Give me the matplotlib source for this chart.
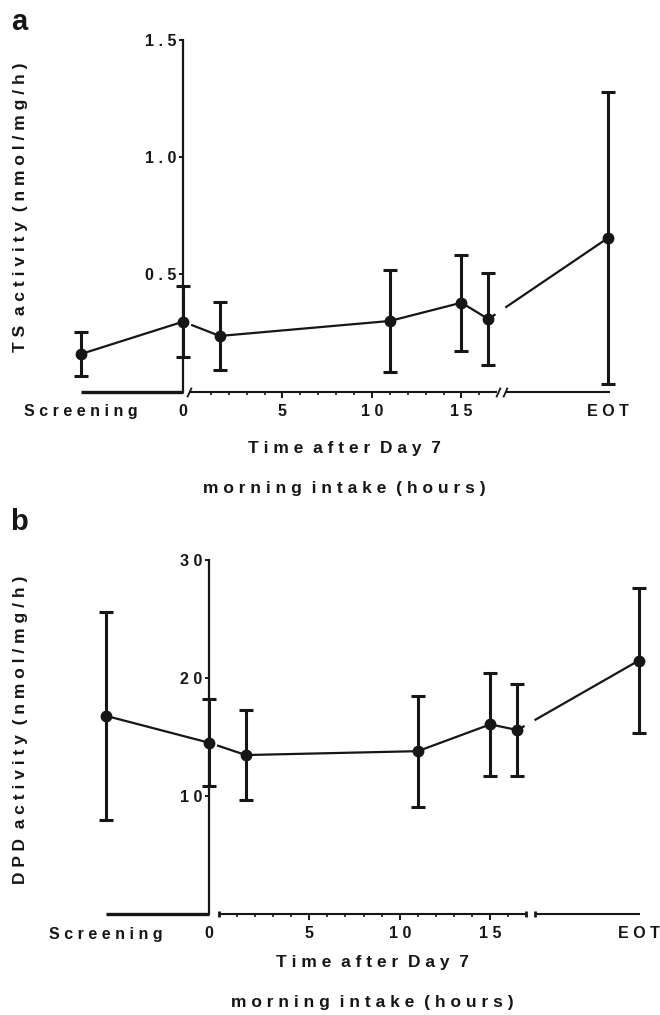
import matplotlib
matplotlib.use("Agg")
import matplotlib.pyplot as plt
import numpy as np

plt.rcParams['font.family'] = ['Liberation Sans', 'DejaVu Sans']
plt.rcParams['font.weight'] = 'bold'

# sampling hours after Day 7 morning intake (screening / EOT are categories)
hours = [0, 1.5, 11, 15, 16.5]
hour_ticks = [5, 10, 15]
y_ticks_ts = [0.5, 1.0, 1.5]
y_ticks_dpd = [10, 20, 30]

# order: Screening, hours..., EOT
ts_mean = [0.160, 0.298, 0.237, 0.301, 0.379, 0.309, 0.656]
ts_sd = [0.095, 0.152, 0.147, 0.218, 0.205, 0.196, 0.624]
dpd_mean = [16.8, 14.52, 13.47, 13.8, 16.07, 15.59, 21.47]
dpd_sd = [8.8, 3.67, 3.84, 4.7, 4.35, 3.9, 6.15]

# layout of the broken x axis (in axis units)
SCREEN_X = -6.25
SPINE_X = -0.55
TIME_END = 17.0
EOT_START = 17.5
EOT_X = 23.2
INK = "#161616"
TICK_FS = 11.5
LABEL_FS = 12.5


def spaced(s):
    return "  ".join(" ".join(w) for w in s.split(" "))


def x_positions():
    return [SCREEN_X] + [SPINE_X if h == 0 else h for h in hours] + [EOT_X]


def broken_segments(xs, ys, gaps):
    """split the connecting line where it crosses an axis break"""
    segs = []
    for (x0, y0), (x1, y1) in zip(zip(xs[:-1], ys[:-1]), zip(xs[1:], ys[1:])):
        cuts = [x0] + [g for gap in gaps for g in gap if x0 < g < x1] + [x1]
        cuts = sorted(cuts)
        for a, b in zip(cuts[:-1], cuts[1:]):
            mid = 0.5 * (a + b)
            if any(lo <= mid <= hi for lo, hi in gaps):
                continue
            segs.append(([a, b], list(np.interp([a, b], [x0, x1], [y0, y1]))))
    return segs


def panel(ax, means, sds, yticks, ymax, style):
    xs = x_positions()
    ax.set_xlim(-7, 24)
    ax.set_ylim(0, ymax)
    for side in ("top", "right", "bottom"):
        ax.spines[side].set_visible(False)
    ax.spines["left"].set_position(("data", SPINE_X))
    ax.spines["left"].set_bounds(0, ymax)
    ax.spines["left"].set_linewidth(1.6)
    ax.spines["left"].set_color(INK)
    ax.set_yticks(yticks, [spaced(f"{t:g}" if t >= 10 else f"{t:.1f}") for t in yticks])
    ax.tick_params(axis="y", length=3, width=1.4, pad=2, labelsize=TICK_FS,
                   colors=INK)

    # x axis pieces
    kw = dict(color=INK, clip_on=False, solid_capstyle="butt")
    ax.plot([SCREEN_X, SPINE_X], [0, 0], lw=2.4, **kw)
    t0 = -0.2 if style == "a" else 0.0
    ax.plot([t0, TIME_END], [0, 0], lw=1.5, **kw)
    ax.plot([EOT_START, EOT_X + 0.1], [0, 0], lw=1.5, **kw)
    if style == "a":
        slash = [(-0.45, -1), (0.45, 1)]
        for xb in (t0, TIME_END + 0.05, EOT_START - 0.05):
            ax.plot([xb], [0], marker=slash, ms=7, mew=1.3, color=INK,
                    clip_on=False, zorder=5)
    else:
        for xb in (0.0, TIME_END, EOT_START):
            ax.plot([xb], [0], marker="|", ms=5, mew=2, color=INK,
                    clip_on=False, zorder=5)

    tick_pos = [SCREEN_X, SPINE_X] + hour_ticks + [EOT_X]
    tick_lab = ["Screening", "0"] + [str(h) for h in hour_ticks] + ["EOT"]
    ax.set_xticks(tick_pos, [spaced(t) for t in tick_lab])
    minor = [h for h in range(1, 17) if h not in hour_ticks]
    ax.set_xticks(minor, minor=True)
    ax.tick_params(axis="x", which="major", length=4, width=1.4, pad=5,
                   labelsize=TICK_FS, colors=INK)
    ax.tick_params(axis="x", which="minor", length=2.2, width=1.2,
                   colors=INK)
    for i, tk in enumerate(ax.xaxis.get_major_ticks()):
        if i in (0, 1, len(tick_pos) - 1):
            tk.tick1line.set_visible(False)

    # data
    gaps = [(SPINE_X, -0.1), (TIME_END - 0.1, EOT_START - 0.05)]
    for sx, sy in broken_segments(xs, means, gaps):
        ax.plot(sx, sy, color=INK, lw=1.6, solid_capstyle="butt", zorder=3)
    ax.errorbar(xs, means, yerr=sds, fmt="none", ecolor=INK, elinewidth=2.2,
                capsize=5, capthick=2.2, zorder=3, clip_on=False)
    ax.plot(xs, means, "o", ms=7.5, color=INK, zorder=4, clip_on=False)


fig = plt.figure(figsize=(6.6, 10.15), dpi=100)
W, H = 660.0, 1015.0

ax_a = fig.add_axes([67.6 / W, 1 - 391.5 / H, 555 / W, 351.5 / H])
panel(ax_a, ts_mean, ts_sd, y_ticks_ts, 1.5, "a")
ax_b = fig.add_axes([92.1 / W, 1 - 914 / H, 561 / W, 354 / H])
panel(ax_b, dpd_mean, dpd_sd, y_ticks_dpd, 30, "b")

lab = dict(fontsize=LABEL_FS, fontweight="bold", color=INK, ha="center",
           va="center")
fig.text(21 / W, 1 - 207 / H, spaced("TS activity (nmol/mg/h)"),
         rotation=90, **lab)
fig.text(21 / W, 1 - 730 / H, spaced("DPD activity (nmol/mg/h)"),
         rotation=90, **lab)
for cx, y1, y2 in ((344, 448, 488), (372, 962, 1002)):
    fig.text(cx / W, 1 - y1 / H, spaced("Time after Day 7"), **lab)
    fig.text(cx / W, 1 - y2 / H, spaced("morning intake (hours)"), **lab)

fig.text(11 / W, 1 - 30 / H, "a", fontsize=21, fontweight="bold",
         color=INK, va="baseline")
fig.text(10 / W, 1 - 530 / H, "b", fontsize=21, fontweight="bold",
         color=INK, va="baseline")

fig.savefig("out.png", dpi=100)
